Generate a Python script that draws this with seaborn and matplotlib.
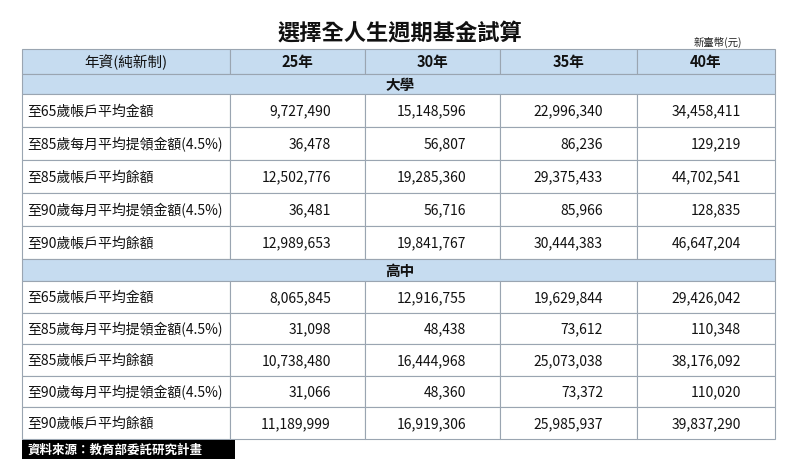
import matplotlib.pyplot as plt
import matplotlib.patches as mpatches
import seaborn as sns

sns.set_theme(style="white")
plt.rcParams['font.family'] = ['Noto Sans CJK TC', 'DejaVu Sans']

title = "選擇全人生週期基金試算"
unit = "新臺幣(元)"
source = "資料來源：教育部委託研究計畫"
header = ["年資(純新制)", "25年", "30年", "35年", "40年"]
row_labels = ["至65歲帳戶平均金額", "至85歲每月平均提領金額(4.5%)", "至85歲帳戶平均餘額",
              "至90歲每月平均提領金額(4.5%)", "至90歲帳戶平均餘額"]
sections = ["大學", "高中"]
college = [
    [9727490, 15148596, 22996340, 34458411],
    [36478, 56807, 86236, 129219],
    [12502776, 19285360, 29375433, 44702541],
    [36481, 56716, 85966, 128835],
    [12989653, 19841767, 30444383, 46647204],
]
highschool = [
    [8065845, 12916755, 19629844, 29426042],
    [31098, 48438, 73612, 110348],
    [10738480, 16444968, 25073038, 38176092],
    [31066, 48360, 73372, 110020],
    [11189999, 16919306, 25985937, 39837290],
]

fig = plt.figure(figsize=(8, 4.64), dpi=100)
ax = fig.add_axes([0, 0, 1, 1])
ax.set_xlim(0, 800)
ax.set_ylim(464, 0)
ax.axis('off')

cols = [22, 230, 365, 500, 637, 775]
blue = '#c6dcf0'
edge = '#9aa5b1'

def cell(x0, x1, y0, y1, color):
    ax.add_patch(mpatches.Rectangle((x0, y0), x1 - x0, y1 - y0, facecolor=color,
                                    edgecolor=edge, linewidth=0.8))

ax.text(400, 34, title, ha='center', va='center', fontsize=16, fontweight='bold', color='#111')
ax.text(718, 42, unit, ha='center', va='center', fontsize=7.5, color='#222')

# header
for i in range(5):
    cell(cols[i], cols[i + 1], 50, 75, blue)
    ax.text((cols[i] + cols[i + 1]) / 2, 62.5, header[i], ha='center', va='center',
            fontsize=10.5, fontweight='bold' if i else 'normal', color='#111')

blocks = [(75, 95, 33, college), (260, 282, 31.6, highschool)]
for (sy0, sy1, rh, data), name in zip(blocks, sections):
    cell(cols[0], cols[-1], sy0, sy1, blue)
    ax.text(400, (sy0 + sy1) / 2, name, ha='center', va='center', fontsize=10.5,
            fontweight='bold', color='#111')
    for r, (lab, vals) in enumerate(zip(row_labels, data)):
        y0 = sy1 + r * rh
        y1 = y0 + rh
        for i in range(5):
            cell(cols[i], cols[i + 1], y0, y1, 'white')
        ax.text(cols[0] + 5, (y0 + y1) / 2, lab, ha='left', va='center', fontsize=10, color='#111')
        for i, v in enumerate(vals):
            ax.text(cols[i + 2] - 34, (y0 + y1) / 2, f"{v:,}", ha='right', va='center',
                    fontsize=10, color='#111')

ax.add_patch(mpatches.Rectangle((22, 441), 213, 19, facecolor='black', edgecolor='none'))
ax.text(28, 450.5, source, ha='left', va='center', fontsize=9, fontweight='bold', color='white')

fig.savefig('out.png', dpi=100)
